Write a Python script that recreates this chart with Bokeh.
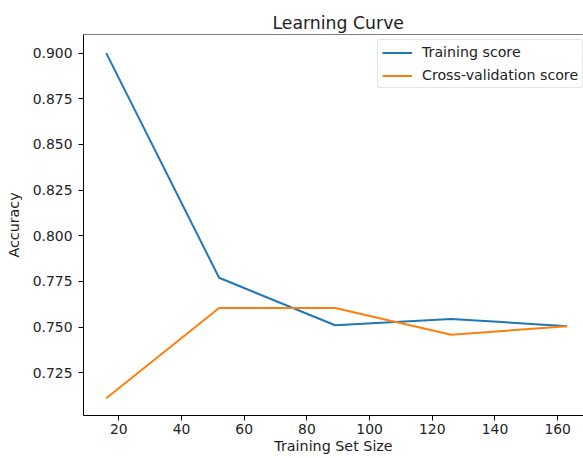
from bokeh.plotting import figure
from bokeh.models import Range1d, FixedTicker, NumeralTickFormatter, Span
from bokeh.embed import file_html
from bokeh.resources import INLINE

# ---- data ----
train_sizes = [16, 52, 89, 126, 163]
train_scores = [0.900, 0.777, 0.751, 0.7545, 0.7505]
cv_scores = [0.711, 0.7605, 0.7605, 0.7458, 0.7505]
x_ticks = [20, 40, 60, 80, 100, 120, 140, 160]
y_ticks = [0.725, 0.750, 0.775, 0.800, 0.825, 0.850, 0.875, 0.900]

FONT = "DejaVu Sans"
TXT = "#222222"

p = figure(width=583, height=458, output_backend="svg", toolbar_location=None,
           x_range=Range1d(8.74, 168.23), y_range=Range1d(0.7016, 0.9102),
           min_border_left=83, min_border_right=0, min_border_top=34, min_border_bottom=43)

p.title.text = "Learning Curve"
p.title.text_font = FONT
p.title.text_font_size = "17.3px"
p.title.text_font_style = "normal"
p.title.text_color = TXT
p.title.align = "left"
p.title.offset = 189
p.title.standoff = 4

p.outline_line_color = None
p.xgrid.visible = False
p.ygrid.visible = False
p.background_fill_color = "white"
p.border_fill_color = "white"

# top spine
p.add_layout(Span(location=0.9102, dimension="width", line_color="black", line_width=1))

p.line(train_sizes, train_scores, line_color="#1f77b4", line_width=2, legend_label="Training score")
p.line(train_sizes, cv_scores, line_color="#ff7f0e", line_width=2, legend_label="Cross-validation score")

for ax in (p.xaxis[0], p.yaxis[0]):
    ax.axis_line_color = "black"
    ax.axis_line_width = 1
    ax.major_tick_line_color = "black"
    ax.major_tick_out = 5
    ax.major_tick_in = 0
    ax.minor_tick_line_color = None
    ax.major_label_text_font = FONT
    ax.major_label_text_font_size = "13.9px"
    ax.major_label_text_color = TXT
    ax.axis_label_text_font = FONT
    ax.axis_label_text_font_size = "14.3px"
    ax.axis_label_text_font_style = "normal"
    ax.axis_label_text_color = TXT

p.xaxis.axis_label = "Training Set Size"
p.yaxis.axis_label = "Accuracy"
p.xaxis.ticker = FixedTicker(ticks=x_ticks)
p.yaxis.ticker = FixedTicker(ticks=y_ticks)
p.yaxis.formatter = NumeralTickFormatter(format="0.000")
p.xaxis.major_label_standoff = 3
p.xaxis.axis_label_standoff = 1
p.yaxis.major_label_standoff = 6
p.yaxis.axis_label_standoff = 8

lg = p.legend[0]
lg.location = (294, 327)
lg.margin = 0
lg.padding = 4
lg.spacing = 7
lg.label_height = 15
lg.glyph_height = 15
lg.glyph_width = 30
lg.label_standoff = 10
lg.label_text_font = FONT
lg.label_text_font_size = "14.2px"
lg.label_text_color = TXT
lg.border_line_color = "#cccccc"
lg.border_line_width = 1
lg.border_radius = 3
lg.background_fill_color = "white"
lg.background_fill_alpha = 0.8

open("out.html", "w").write(file_html(p, INLINE))
